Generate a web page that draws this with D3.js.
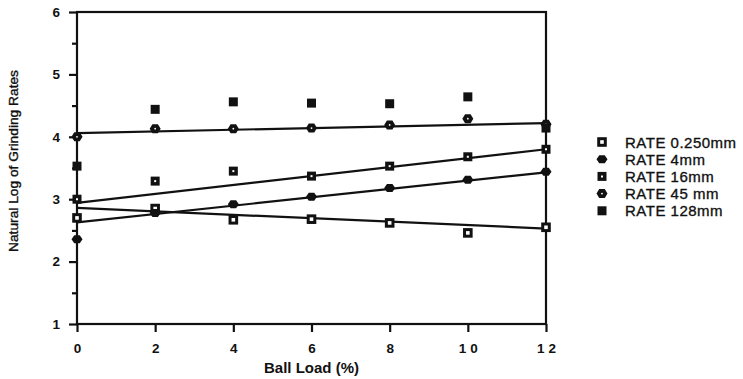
<!DOCTYPE html>
<html>
<head>
<meta charset="utf-8">
<script src="https://cdn.jsdelivr.net/npm/d3@7"></script>
<style>
  body { margin: 0; background: #fff; }
  svg { display: block; font-family: "Liberation Sans", Arial, sans-serif; }
</style>
</head>
<body>
<svg id="chart" width="743" height="379"></svg>
<script>
// values
var loads = [0, 2, 4, 6, 8, 10, 12];
var seriesNames = ["RATE 0.250mm", "RATE 4mm", "RATE 16mm", "RATE 45 mm", "RATE 128mm"];
var rate0250 = [2.70, 2.85, 2.67, 2.68, 2.62, 2.46, 2.55];
var rate4 = [2.36, 2.78, 2.92, 3.04, 3.18, 3.31, 3.44];
var rate16 = [3.00, 3.29, 3.45, 3.37, 3.53, 3.68, 3.80];
var rate45 = [4.00, 4.13, 4.13, 4.14, 4.19, 4.29, 4.20];
var rate128 = [3.53, 4.44, 4.56, 4.54, 4.53, 4.64, 4.14];
// fitted lines: value at load 0 and at load 12 (128mm has none)
var fitStart = [2.86, 2.63, 2.94, 4.06, null];
var fitEnd = [2.53, 3.43, 3.80, 4.22, null];
var yTicks = [1, 2, 3, 4, 5, 6];
var yMinor = [1.5, 2.5, 3.5, 4.5, 5.5];
var xTicks = [0, 2, 4, 6, 8, 10, 12];

var series = [rate0250, rate4, rate16, rate45, rate128];
var shapes = ["openSquare", "diamond", "dotSquare", "dotDiamond", "square"];

var svg = d3.select("#chart");
var x = d3.scaleLinear().domain([0, 12]).range([77, 546]);
var y = d3.scaleLinear().domain([1, 6]).range([324, 12]);

// axes
var yAxis = d3.axisLeft(y).tickValues(yTicks).tickSize(8).tickPadding(9).tickFormat(d3.format("d"));
var gy = svg.append("g").attr("transform", "translate(77,0)").call(yAxis);
svg.append("g").attr("transform", "translate(77,0)")
  .call(d3.axisLeft(y).tickValues(yMinor).tickSize(5).tickFormat(""));
var xAxis = d3.axisBottom(x).tickValues(xTicks).tickSize(8).tickPadding(11).tickFormat(d3.format("d"));
var gx = svg.append("g").attr("transform", "translate(0,324)").call(xAxis);

svg.selectAll(".domain").remove();
svg.selectAll(".tick line").attr("stroke", "#111").attr("stroke-width", 2.2);
svg.selectAll(".tick text")
  .attr("font-family", "Liberation Sans, Arial, sans-serif")
  .attr("font-size", 13.5).attr("font-weight", "bold").attr("fill", "#111");
gy.selectAll(".tick text").attr("x", -17);
gx.selectAll(".tick text").filter(function(d) { return d >= 10; })
  .attr("letter-spacing", "4px").attr("dx", 2);

// frame
svg.append("rect")
  .attr("x", x(0)).attr("y", y(6))
  .attr("width", x(12) - x(0)).attr("height", y(1) - y(6))
  .attr("fill", "none").attr("stroke", "#111").attr("stroke-width", 2.2);

// regression lines
fitStart.forEach(function(v, i) {
  if (v === null) return;
  svg.append("line")
    .attr("x1", x(0)).attr("y1", y(v))
    .attr("x2", x(12)).attr("y2", y(fitEnd[i]))
    .attr("stroke", "#111").attr("stroke-width", 2.2);
});

function marker(g, shape, cx, cy) {
  var sq = function(h) { return "M" + (cx - h) + "," + (cy - h) + "h" + 2 * h + "v" + 2 * h + "h" + -2 * h + "Z"; };
  var dm = function(w, h) {
    return "M" + (cx - w) + "," + cy + "L" + (cx - w / 2) + "," + (cy - h) + "L" + (cx + w / 2) + "," + (cy - h) +
      "L" + (cx + w) + "," + cy + "L" + (cx + w / 2) + "," + (cy + h) + "L" + (cx - w / 2) + "," + (cy + h) + "Z";
  };
  if (shape === "square") {
    g.append("path").attr("d", sq(4.5)).attr("fill", "#111");
  } else if (shape === "openSquare") {
    g.append("path").attr("d", sq(4.8)).attr("fill", "#111");
    g.append("path").attr("d", sq(1.8)).attr("fill", "#fff");
  } else if (shape === "dotSquare") {
    g.append("path").attr("d", sq(4.5)).attr("fill", "#111");
    g.append("path").attr("d", sq(1)).attr("fill", "#fff");
  } else if (shape === "diamond") {
    g.append("path").attr("d", dm(5.5, 4)).attr("fill", "#111");
  } else {
    g.append("path").attr("d", dm(5.5, 4.5)).attr("fill", "#111");
    g.append("circle").attr("cx", cx).attr("cy", cy).attr("r", 0.9).attr("fill", "#fff");
  }
}

var pts = svg.append("g");
series.forEach(function(vals, i) {
  vals.forEach(function(v, j) {
    marker(pts, shapes[i], x(loads[j]), y(v));
  });
});

// legend
var legend = svg.append("g");
seriesNames.forEach(function(name, i) {
  var cy = 142 + i * 17.2;
  marker(legend, shapes[i], 602, cy);
  legend.append("text").attr("x", 625).attr("y", cy + 5.5)
    .attr("font-size", "15px").attr("letter-spacing", "0.5px").attr("fill", "#111")
    .attr("stroke", "#111").attr("stroke-width", 0.35)
    .text(name);
});

// axis titles
svg.append("text")
  .attr("x", (x(0) + x(12)) / 2).attr("y", 373)
  .attr("text-anchor", "middle").attr("font-size", "14px").attr("font-weight", "bold")
  .attr("textLength", 95).attr("lengthAdjust", "spacingAndGlyphs")
  .attr("fill", "#111").text("Ball Load (%)");
svg.append("text")
  .attr("transform", "translate(18,161) rotate(-90)")
  .attr("text-anchor", "middle").attr("font-size", "13px")
  .attr("stroke", "#111").attr("stroke-width", 0.35)
  .attr("textLength", 182).attr("lengthAdjust", "spacingAndGlyphs")
  .attr("fill", "#111").text("Natural Log of Grinding Rates");
</script>
</body>
</html>
